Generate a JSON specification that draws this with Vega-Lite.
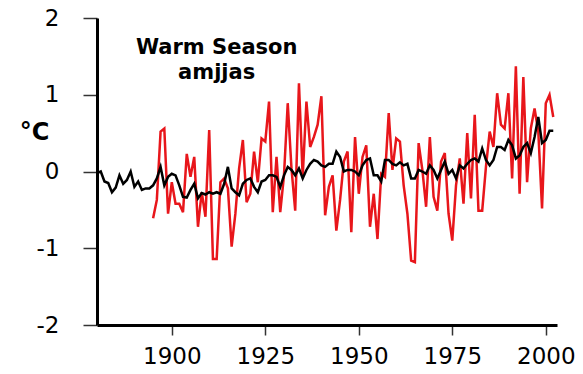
{
  "$schema": "https://vega.github.io/schema/vega-lite/v6.json",
  "autosize": "none",
  "width": 460,
  "height": 307,
  "padding": {"left": 97, "top": 18, "right": 26, "bottom": 49},
  "background": "white",
  "config": {"view": {"stroke": null}},
  "datasets": {
    "regional": [
      {"year": 1895, "value": -0.61}, {"year": 1896, "value": -0.37}, {"year": 1897, "value": 0.52}, {"year": 1898, "value": 0.56},
      {"year": 1899, "value": -0.55}, {"year": 1900, "value": -0.14}, {"year": 1901, "value": -0.42}, {"year": 1902, "value": -0.42},
      {"year": 1903, "value": -0.53}, {"year": 1904, "value": 0.23}, {"year": 1905, "value": -0.07}, {"year": 1906, "value": 0.19},
      {"year": 1907, "value": -0.72}, {"year": 1908, "value": -0.27}, {"year": 1909, "value": -0.59}, {"year": 1910, "value": 0.54},
      {"year": 1911, "value": -1.14}, {"year": 1912, "value": -1.14}, {"year": 1913, "value": -0.14}, {"year": 1914, "value": -0.09},
      {"year": 1915, "value": -0.22}, {"year": 1916, "value": -0.98}, {"year": 1917, "value": -0.55}, {"year": 1918, "value": 0.04},
      {"year": 1919, "value": 0.41}, {"year": 1920, "value": -0.4}, {"year": 1921, "value": -0.29}, {"year": 1922, "value": 0.26},
      {"year": 1923, "value": -0.14}, {"year": 1924, "value": 0.43}, {"year": 1925, "value": 0.39}, {"year": 1926, "value": 0.91},
      {"year": 1927, "value": -0.53}, {"year": 1928, "value": 0.19}, {"year": 1929, "value": -0.53}, {"year": 1930, "value": -0.05},
      {"year": 1931, "value": 0.89}, {"year": 1932, "value": 0.04}, {"year": 1933, "value": -0.51}, {"year": 1934, "value": 1.15},
      {"year": 1935, "value": -0.07}, {"year": 1936, "value": 0.91}, {"year": 1937, "value": 0.32}, {"year": 1938, "value": 0.45},
      {"year": 1939, "value": 0.61}, {"year": 1940, "value": 0.98}, {"year": 1941, "value": -0.57}, {"year": 1942, "value": -0.2},
      {"year": 1943, "value": -0.05}, {"year": 1944, "value": -0.77}, {"year": 1945, "value": -0.37}, {"year": 1946, "value": 0.13},
      {"year": 1947, "value": 0.26}, {"year": 1948, "value": -0.79}, {"year": 1949, "value": 0.45}, {"year": 1950, "value": -0.29},
      {"year": 1951, "value": 0.19}, {"year": 1952, "value": 0.34}, {"year": 1953, "value": -0.72}, {"year": 1954, "value": -0.29},
      {"year": 1955, "value": -0.88}, {"year": 1956, "value": -0.03}, {"year": 1957, "value": -0.07}, {"year": 1958, "value": 0.76},
      {"year": 1959, "value": 0.02}, {"year": 1960, "value": 0.43}, {"year": 1961, "value": 0.39}, {"year": 1962, "value": -0.18},
      {"year": 1963, "value": -0.55}, {"year": 1964, "value": -1.16}, {"year": 1965, "value": -1.18}, {"year": 1966, "value": 0.37},
      {"year": 1967, "value": 0.02}, {"year": 1968, "value": -0.46}, {"year": 1969, "value": 0.45}, {"year": 1970, "value": -0.33},
      {"year": 1971, "value": -0.51}, {"year": 1972, "value": 0.13}, {"year": 1973, "value": 0.24}, {"year": 1974, "value": -0.55},
      {"year": 1975, "value": -0.9}, {"year": 1976, "value": -0.18}, {"year": 1977, "value": 0.17}, {"year": 1978, "value": -0.42},
      {"year": 1979, "value": 0.5}, {"year": 1980, "value": -0.35}, {"year": 1981, "value": 0.74}, {"year": 1982, "value": -0.51},
      {"year": 1983, "value": -0.51}, {"year": 1984, "value": 0.06}, {"year": 1985, "value": 0.52}, {"year": 1986, "value": 0.32},
      {"year": 1987, "value": 1.02}, {"year": 1988, "value": 0.61}, {"year": 1989, "value": 0.56}, {"year": 1990, "value": 1.02},
      {"year": 1991, "value": -0.09}, {"year": 1992, "value": 1.37}, {"year": 1993, "value": -0.29}, {"year": 1994, "value": 1.23},
      {"year": 1995, "value": -0.14}, {"year": 1996, "value": 0.56}, {"year": 1997, "value": 0.82}, {"year": 1998, "value": 0.52},
      {"year": 1999, "value": -0.48}, {"year": 2000, "value": 0.89}, {"year": 2001, "value": 1.0}, {"year": 2002, "value": 0.71}
    ],
    "global": [
      {"year": 1880, "value": -0.02}, {"year": 1881, "value": 0.0}, {"year": 1882, "value": -0.13}, {"year": 1883, "value": -0.15},
      {"year": 1884, "value": -0.27}, {"year": 1885, "value": -0.21}, {"year": 1886, "value": -0.05}, {"year": 1887, "value": -0.16},
      {"year": 1888, "value": -0.11}, {"year": 1889, "value": 0.0}, {"year": 1890, "value": -0.2}, {"year": 1891, "value": -0.13},
      {"year": 1892, "value": -0.24}, {"year": 1893, "value": -0.22}, {"year": 1894, "value": -0.22}, {"year": 1895, "value": -0.18},
      {"year": 1896, "value": -0.09}, {"year": 1897, "value": 0.06}, {"year": 1898, "value": -0.18}, {"year": 1899, "value": -0.07},
      {"year": 1900, "value": -0.03}, {"year": 1901, "value": -0.05}, {"year": 1902, "value": -0.18}, {"year": 1903, "value": -0.33},
      {"year": 1904, "value": -0.34}, {"year": 1905, "value": -0.24}, {"year": 1906, "value": -0.16}, {"year": 1907, "value": -0.35},
      {"year": 1908, "value": -0.28}, {"year": 1909, "value": -0.3}, {"year": 1910, "value": -0.27}, {"year": 1911, "value": -0.29},
      {"year": 1912, "value": -0.27}, {"year": 1913, "value": -0.29}, {"year": 1914, "value": -0.16}, {"year": 1915, "value": 0.06},
      {"year": 1916, "value": -0.22}, {"year": 1917, "value": -0.27}, {"year": 1918, "value": -0.31}, {"year": 1919, "value": -0.16},
      {"year": 1920, "value": -0.11}, {"year": 1921, "value": -0.09}, {"year": 1922, "value": -0.2}, {"year": 1923, "value": -0.27},
      {"year": 1924, "value": -0.13}, {"year": 1925, "value": -0.11}, {"year": 1926, "value": -0.05}, {"year": 1927, "value": -0.05},
      {"year": 1928, "value": -0.07}, {"year": 1929, "value": -0.2}, {"year": 1930, "value": -0.05}, {"year": 1931, "value": 0.06},
      {"year": 1932, "value": 0.02}, {"year": 1933, "value": -0.05}, {"year": 1934, "value": 0.04}, {"year": 1935, "value": -0.09},
      {"year": 1936, "value": 0.02}, {"year": 1937, "value": 0.1}, {"year": 1938, "value": 0.15}, {"year": 1939, "value": 0.13},
      {"year": 1940, "value": 0.08}, {"year": 1941, "value": 0.06}, {"year": 1942, "value": 0.1}, {"year": 1943, "value": 0.1},
      {"year": 1944, "value": 0.26}, {"year": 1945, "value": 0.19}, {"year": 1946, "value": 0.0}, {"year": 1947, "value": 0.02},
      {"year": 1948, "value": 0.02}, {"year": 1949, "value": 0.0}, {"year": 1950, "value": -0.05}, {"year": 1951, "value": 0.08},
      {"year": 1952, "value": 0.15}, {"year": 1953, "value": 0.17}, {"year": 1954, "value": -0.05}, {"year": 1955, "value": -0.05},
      {"year": 1956, "value": -0.13}, {"year": 1957, "value": 0.15}, {"year": 1958, "value": 0.15}, {"year": 1959, "value": 0.1},
      {"year": 1960, "value": 0.08}, {"year": 1961, "value": 0.12}, {"year": 1962, "value": 0.08}, {"year": 1963, "value": 0.1},
      {"year": 1964, "value": -0.09}, {"year": 1965, "value": -0.09}, {"year": 1966, "value": 0.02}, {"year": 1967, "value": 0.0},
      {"year": 1968, "value": -0.03}, {"year": 1969, "value": 0.08}, {"year": 1970, "value": 0.02}, {"year": 1971, "value": -0.09},
      {"year": 1972, "value": 0.02}, {"year": 1973, "value": 0.13}, {"year": 1974, "value": -0.03}, {"year": 1975, "value": 0.02},
      {"year": 1976, "value": -0.09}, {"year": 1977, "value": 0.08}, {"year": 1978, "value": 0.04}, {"year": 1979, "value": 0.1},
      {"year": 1980, "value": 0.15}, {"year": 1981, "value": 0.17}, {"year": 1982, "value": 0.13}, {"year": 1983, "value": 0.3},
      {"year": 1984, "value": 0.15}, {"year": 1985, "value": 0.08}, {"year": 1986, "value": 0.15}, {"year": 1987, "value": 0.32},
      {"year": 1988, "value": 0.32}, {"year": 1989, "value": 0.28}, {"year": 1990, "value": 0.41}, {"year": 1991, "value": 0.34},
      {"year": 1992, "value": 0.17}, {"year": 1993, "value": 0.21}, {"year": 1994, "value": 0.32}, {"year": 1995, "value": 0.37},
      {"year": 1996, "value": 0.24}, {"year": 1997, "value": 0.45}, {"year": 1998, "value": 0.71}, {"year": 1999, "value": 0.37},
      {"year": 2000, "value": 0.41}, {"year": 2001, "value": 0.53}, {"year": 2002, "value": 0.53}
    ],
    "labels": [
      {"year": 1912, "value": 1.61, "label": "Warm Season"},
      {"year": 1912, "value": 1.28, "label": "amjjas"}
    ]
  },
  "encoding": {
    "x": {
      "field": "year", "type": "quantitative",
      "scale": {"domain": [1880, 2003], "nice": false, "zero": false},
      "axis": {
        "title": null, "values": [1900, 1925, 1950, 1975, 2000], "format": "d",
        "grid": false, "domainColor": "black", "domainWidth": 3,
        "tickColor": "#333", "tickWidth": 1.5, "tickSize": 10,
        "labelFont": "DejaVu Sans", "labelFontSize": 23, "labelColor": "black",
        "labelPadding": 10, "labelFlush": false
      }
    },
    "y": {
      "field": "value", "type": "quantitative",
      "scale": {"domain": [-2, 2], "nice": false},
      "axis": {
        "title": "°C", "titleAngle": 0, "titleX": -63, "titleY": 114,
        "titleAlign": "center", "titleBaseline": "middle",
        "titleFont": "DejaVu Sans", "titleFontSize": 24, "titleFontWeight": "bold", "titleColor": "black",
        "values": [-2, -1, 0, 1, 2], "grid": false,
        "labelExpr": "datum.value < 0 ? '-' + abs(datum.value) : '' + datum.value",
        "domainColor": "black", "domainWidth": 3,
        "tickColor": "#333", "tickWidth": 1.5, "tickSize": 14,
        "labelFont": "DejaVu Sans", "labelFontSize": 23, "labelColor": "black",
        "labelPadding": 24, "labelFlush": false
      }
    }
  },
  "layer": [
    {
      "data": {"values": [{"v": 0}]},
      "mark": {"type": "rule", "color": "black", "strokeWidth": 1},
      "encoding": {"y": {"datum": 0, "type": "quantitative"}, "x": null}
    },
    {
      "data": {"name": "regional"},
      "mark": {"type": "line", "color": "#e8161b", "strokeWidth": 2.5, "strokeJoin": "miter"}
    },
    {
      "data": {"name": "global"},
      "mark": {"type": "line", "color": "black", "strokeWidth": 2.5, "strokeJoin": "miter"}
    },
    {
      "data": {"name": "labels"},
      "mark": {"type": "text", "font": "DejaVu Sans", "fontSize": 21, "fontWeight": "bold", "color": "black", "align": "center", "baseline": "middle"},
      "encoding": {"text": {"field": "label"}}
    }
  ]
}
